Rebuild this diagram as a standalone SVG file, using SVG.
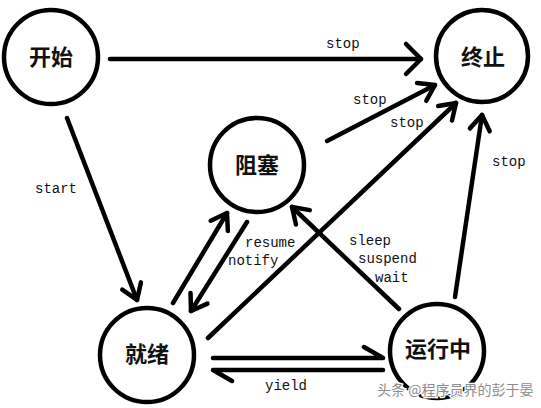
<svg xmlns="http://www.w3.org/2000/svg" width="541" height="408" viewBox="0 0 541 408">
<style>
.node circle{fill:none;stroke:#000;stroke-width:4.5}
.node text{font-family:"Noto Sans CJK SC","Noto Sans",sans-serif;font-weight:bold;font-size:22px;text-anchor:middle;fill:#111}
.edge{fill:none;stroke:#000;stroke-width:4.5;stroke-linecap:round;stroke-linejoin:round}
.lbl{font-family:"Liberation Mono","DejaVu Sans Mono",monospace;font-size:14px;fill:#111}
.wm{font-family:"Noto Sans CJK SC",sans-serif;font-size:14px;fill:#8c8c8c;stroke:#fff;stroke-width:2.5;paint-order:stroke}
</style>
<defs>
<marker id="arr" markerUnits="userSpaceOnUse" markerWidth="40" markerHeight="40" refX="0" refY="0" orient="auto" overflow="visible">
<path d="M-15,-10 L0,0 L-15,10" fill="none" stroke="#000" stroke-width="4.5" stroke-linecap="round" stroke-linejoin="round"/>
</marker>
<marker id="arrw" markerUnits="userSpaceOnUse" markerWidth="40" markerHeight="40" refX="0" refY="0" orient="auto" overflow="visible">
<path d="M-15,-15 L0,0 L-15,15" fill="none" stroke="#000" stroke-width="4.5" stroke-linecap="round" stroke-linejoin="round"/>
</marker>
</defs>
<rect width="541" height="408" fill="#fff"/>
<g id="edges">
<line class="edge" x1="110" y1="59" x2="421" y2="59" marker-end="url(#arrw)"/>
<line class="edge" x1="67" y1="118" x2="137" y2="300" marker-end="url(#arr)"/>
<line class="edge" x1="327" y1="141" x2="435" y2="85" marker-end="url(#arr)"/>
<line class="edge" x1="208" y1="338" x2="456" y2="103" marker-end="url(#arr)"/>
<line class="edge" x1="455" y1="297" x2="482" y2="115" marker-end="url(#arr)"/>
<line class="edge" x1="173" y1="303" x2="227" y2="213" marker-end="url(#arr)"/>
<line class="edge" x1="247" y1="222" x2="191" y2="311" marker-end="url(#arr)"/>
<line class="edge" x1="399" y1="309" x2="292" y2="207" marker-end="url(#arr)"/>
<polyline class="edge" points="213,358 383,358 364,347"/>
<polyline class="edge" points="383,370 213,370 232,381"/>
<text class="lbl" x="326" y="48">stop</text>
<text class="lbl" x="35" y="193">start</text>
<text class="lbl" x="353" y="104">stop</text>
<text class="lbl" x="390" y="127">stop</text>
<text class="lbl" x="492" y="166">stop</text>
<text class="lbl" x="245" y="247">resume</text>
<text class="lbl" x="228" y="265">notify</text>
<text class="lbl" x="349" y="245">sleep</text>
<text class="lbl" x="358" y="263">suspend</text>
<text class="lbl" x="375" y="282">wait</text>
<text class="lbl" x="265" y="390">yield</text>
</g>
<g id="n-start" class="node"><circle cx="51" cy="57" r="47"/><text x="51" y="65">开始</text></g>
<g id="n-end" class="node"><circle cx="482" cy="56" r="46"/><text x="483" y="65">终止</text></g>
<g id="n-blocked" class="node"><circle cx="257" cy="165" r="47"/><text x="257" y="173">阻塞</text></g>
<g id="n-ready" class="node"><circle cx="147" cy="355" r="47"/><text x="147" y="362">就绪</text></g>
<g id="n-running" class="node"><circle cx="437" cy="351" r="47"/><text x="438" y="357">运行中</text></g>
<text class="wm" x="377" y="395">头条 @程序员界的彭于晏</text>
</svg>
